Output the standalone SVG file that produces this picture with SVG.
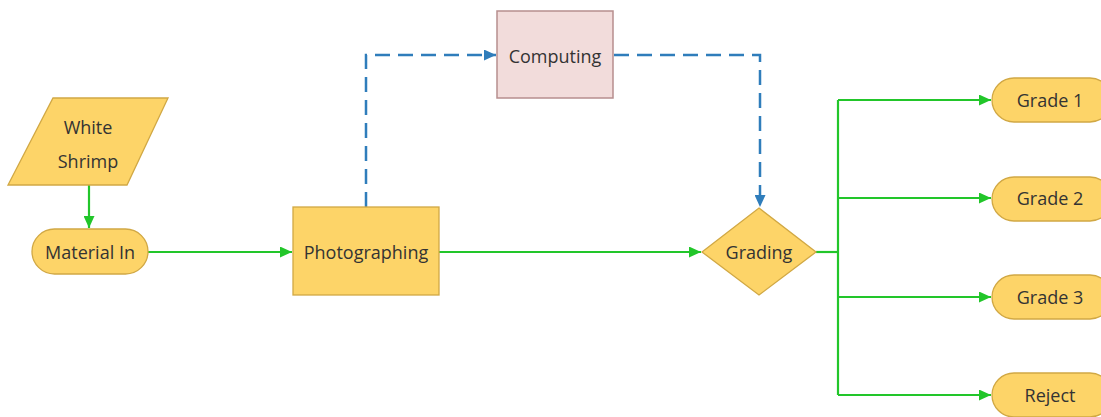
<svg xmlns="http://www.w3.org/2000/svg" width="1101" height="417" viewBox="0 0 1101 417">
<defs>
<style>
.n{fill:#fdd468;stroke:#d1a844;stroke-width:1.3}
.c{fill:#f2dcdb;stroke:#b78e8e;stroke-width:1.5}
.t{font-family:"Open Sans","Noto Sans",sans-serif;font-size:18px;fill:#333;text-anchor:middle;dominant-baseline:central}
.g{fill:none;stroke:#22c62a;stroke-width:2.2}
.b{fill:none;stroke:#2f7dbb;stroke-width:2.5;stroke-dasharray:15 8}
</style>
<marker id="ag" viewBox="0 0 12 11" refX="12" refY="5.5" markerWidth="12" markerHeight="11" markerUnits="userSpaceOnUse" orient="auto"><path d="M0,0 L12,5.5 L0,11 z" fill="#22c62a"/></marker>
<marker id="ab" viewBox="0 0 12 11" refX="12" refY="5.5" markerWidth="12" markerHeight="11" markerUnits="userSpaceOnUse" orient="auto"><path d="M0,0 L12,5.5 L0,11 z" fill="#2f7dbb"/></marker>
</defs>
<rect width="1101" height="417" fill="#ffffff"/>
<g id="connectors">
<path class="g" d="M89,185 V228" marker-end="url(#ag)"/>
<path class="g" d="M148,252 H292" marker-end="url(#ag)"/>
<path class="g" d="M439,252 H701" marker-end="url(#ag)"/>
<path class="g" d="M816,252 H838"/>
<path class="g" d="M838,100 V395"/>
<path class="g" d="M838,100 H991" marker-end="url(#ag)"/>
<path class="g" d="M838,198 H991" marker-end="url(#ag)"/>
<path class="g" d="M838,297 H991" marker-end="url(#ag)"/>
<path class="g" d="M838,395 H991" marker-end="url(#ag)"/>
<path class="b" d="M366,207 V55 H496" marker-end="url(#ab)"/>
<path class="b" d="M614,55 H760 V207" marker-end="url(#ab)"/>
</g>
<g id="white-shrimp">
<polygon class="n" points="53,98 168,98 127,185 8,185"/>
<text class="t" x="88" y="127">White</text>
<text class="t" x="88" y="161">Shrimp</text>
</g>
<g id="material-in">
<rect class="n" x="32" y="229" width="116" height="45" rx="22.5"/>
<text class="t" x="90" y="252">Material In</text>
</g>
<g id="photographing">
<rect class="n" x="293" y="207" width="146" height="88"/>
<text class="t" x="366" y="252">Photographing</text>
</g>
<g id="computing">
<rect class="c" x="497" y="11" width="116" height="87"/>
<text class="t" x="555" y="56">Computing</text>
</g>
<g id="grading">
<polygon class="n" points="759,208 816,252 759,295 702,252"/>
<text class="t" x="759" y="252">Grading</text>
</g>
<g id="grade-1">
<rect class="n" x="992" y="78" width="120" height="44" rx="22"/>
<text class="t" x="1050" y="100">Grade 1</text>
</g>
<g id="grade-2">
<rect class="n" x="992" y="177" width="120" height="44" rx="22"/>
<text class="t" x="1050" y="198">Grade 2</text>
</g>
<g id="grade-3">
<rect class="n" x="992" y="275" width="120" height="44" rx="22"/>
<text class="t" x="1050" y="297">Grade 3</text>
</g>
<g id="reject">
<rect class="n" x="992" y="373" width="120" height="44" rx="22"/>
<text class="t" x="1050" y="395">Reject</text>
</g>
</svg>
